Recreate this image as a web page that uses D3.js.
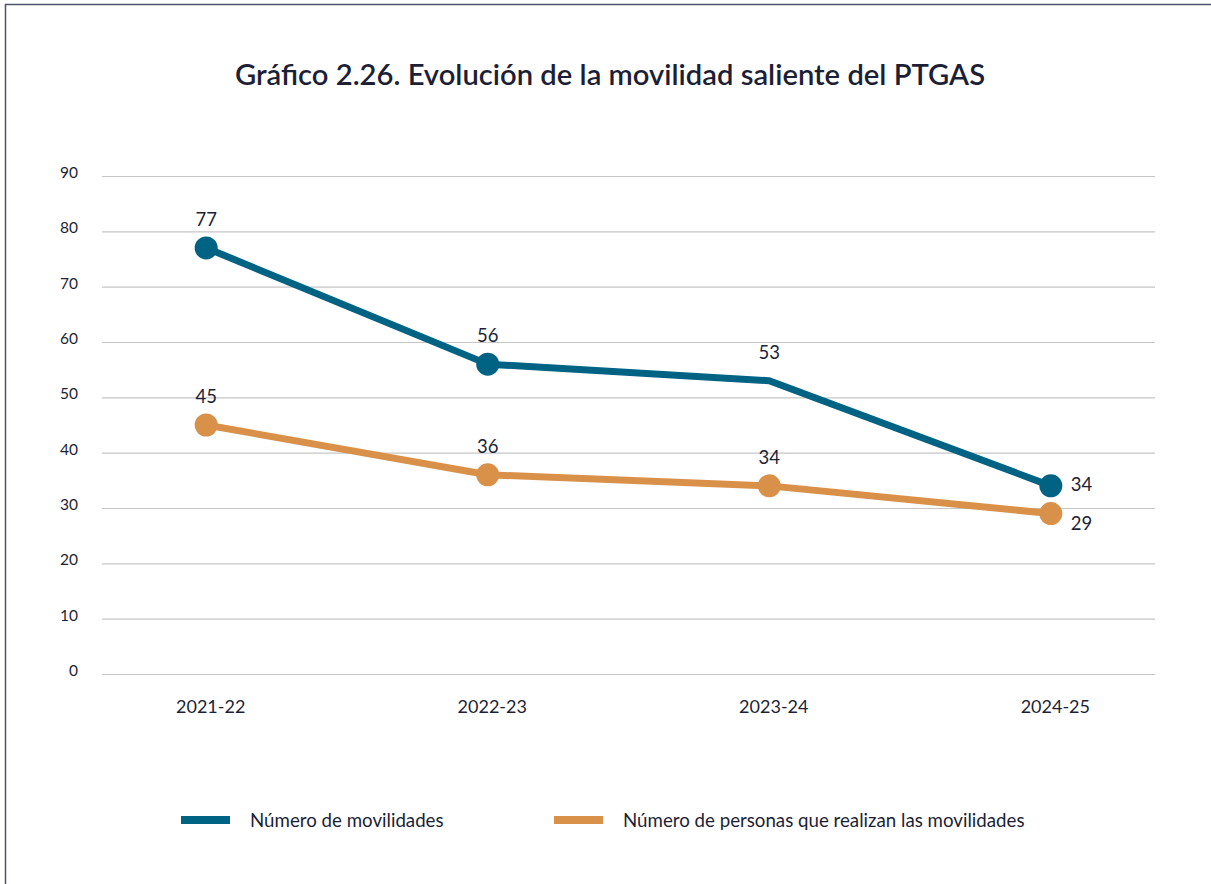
<!DOCTYPE html>
<html>
<head>
<meta charset="utf-8">
<script src="https://cdn.jsdelivr.net/npm/d3@7"></script>
<style>
  body { margin: 0; background: #fff; }
  svg { display: block; font-family: Lato, "Open Sans", sans-serif; }
</style>
</head>
<body>
<div id="chart"></div>
<script>
var years = ["2021-22", "2022-23", "2023-24", "2024-25"];
var movilidades = [77, 56, 53, 34];
var personas = [45, 36, 34, 29];
var yTicks = [0, 10, 20, 30, 40, 50, 60, 70, 80, 90];
var seriesNames = ["Número de movilidades", "Número de personas que realizan las movilidades"];

var width = 1211,
    height = 884;

var svg = d3.select("#chart").append("svg")
    .attr("width", width)
    .attr("height", height);

// frame (only top and left edges are visible in the original crop)
svg.append("rect")
    .attr("x", 5.5).attr("y", 4.5)
    .attr("width", width + 20).attr("height", height + 20)
    .attr("fill", "none")
    .attr("stroke", "#50546a")
    .attr("stroke-width", 1.5);

svg.append("text")
    .attr("x", 610).attr("y", 85)
    .attr("text-anchor", "middle")
    .attr("font-size", 29.2)
    .attr("font-weight", 600)
    .attr("fill", "#1c1f36")
    .text("Gráfico 2.26. Evolución de la movilidad saliente del PTGAS");

var x = d3.scalePoint()
    .domain(years)
    .range([102, 1155])
    .padding(0.37);

var y = d3.scaleLinear()
    .domain([0, 90])
    .range([674, 176]);

// gridlines
svg.append("g")
  .selectAll("line")
    .data(yTicks)
  .enter().append("line")
    .attr("x1", 102).attr("x2", 1155)
    .attr("y1", function(d) { return y(d) + 0.5; })
    .attr("y2", function(d) { return y(d) + 0.5; })
    .attr("stroke", "#c6c6c6")
    .attr("stroke-width", 1.2);

// y axis labels
var yAxis = svg.append("g")
    .attr("transform", "translate(78,0)")
    .call(d3.axisLeft(y).tickValues(yTicks).tickSize(0).tickPadding(0));
yAxis.select(".domain").remove();
yAxis.selectAll("text")
    .attr("font-family", "Lato, sans-serif")
    .attr("font-size", 15.5)
    .attr("fill", "#1c1f36")
    .attr("dy", "0.1em");

// x axis labels
var xAxis = svg.append("g")
    .attr("transform", "translate(4,700)")
    .call(d3.axisBottom(x).tickSize(0).tickPadding(0));
xAxis.select(".domain").remove();
xAxis.selectAll("text")
    .attr("font-family", "Lato, sans-serif")
    .attr("font-size", 18)
    .attr("fill", "#1c1f36");

var series = [
  { name: seriesNames[0], values: movilidades, color: "#006384", markers: [true, true, false, true] },
  { name: seriesNames[1], values: personas, color: "#d9914a", markers: [true, true, true, true] }
];

var line = d3.line()
    .x(function(d, i) { return x(years[i]); })
    .y(function(d) { return y(d); });

series.slice().reverse().forEach(function(s) {
  svg.append("path")
      .datum(s.values)
      .attr("fill", "none")
      .attr("stroke", s.color)
      .attr("stroke-width", 7)
      .attr("stroke-linejoin", "round")
      .attr("d", line);

  svg.append("g")
    .selectAll("circle")
      .data(s.values.map(function(d, i) { return { v: d, i: i }; })
        .filter(function(d) { return s.markers[d.i]; }))
    .enter().append("circle")
      .attr("cx", function(d) { return x(years[d.i]); })
      .attr("cy", function(d) { return y(d.v); })
      .attr("r", 11.5)
      .attr("fill", s.color);
});

// value labels
series.forEach(function(s, k) {
  svg.append("g")
    .selectAll("text")
      .data(s.values)
    .enter().append("text")
      .attr("x", function(d, i) { return i === 3 ? x(years[i]) + 20 : x(years[i]); })
      .attr("y", function(d, i) {
        if (i === 3) return k === 0 ? y(d) + 5 : y(d) + 16;
        return y(d) - 22;
      })
      .attr("text-anchor", function(d, i) { return i === 3 ? "start" : "middle"; })
      .attr("font-size", 18.5)
      .attr("fill", "#1c1f36")
      .text(function(d) { return d; });
});

// legend
var legendX = [181, 554];
var legend = svg.append("g")
  .selectAll("g")
    .data(series)
  .enter().append("g")
    .attr("transform", function(d, i) { return "translate(" + legendX[i] + ",820)"; });

legend.append("line")
    .attr("x1", 0).attr("x2", 49)
    .attr("stroke", function(d) { return d.color; })
    .attr("stroke-width", 8);

legend.append("text")
    .attr("x", 69).attr("y", 7)
    .attr("font-size", 18.7)
    .attr("fill", "#1c1f36")
    .text(function(d) { return d.name; });
</script>
</body>
</html>
